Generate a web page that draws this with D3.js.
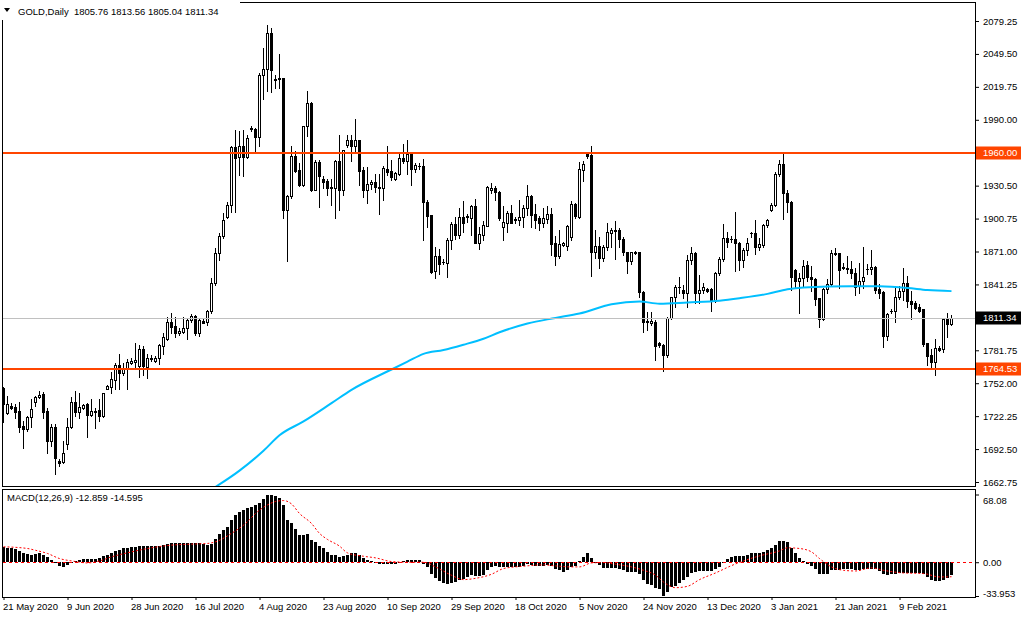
<!DOCTYPE html>
<html>
<head>
<meta charset="utf-8">
<script src="https://cdn.jsdelivr.net/npm/d3@7"></script>
<style>
  body { margin: 0; background: #fff; }
  svg { display: block; font-family: "Liberation Sans", Arial, sans-serif; }
</style>
</head>
<body>
<svg id="chart" width="1024" height="620"></svg>
<script>
// daily candles, bar 0 = 21 May 2020 ... bar 237 = last bar
const openP = [1747.5,1725.4,1731.5,1730.3,1726.6,1713.4,1710.4,1721.8,1735.1,1739.9,
  1742,1726.6,1699.8,1712.2,1682,1680.8,1697.4,1712.8,1735.4,1726,
  1729.7,1733,1723.3,1726.3,1727.6,1722.4,1747.2,1748.7,1755,1768.9,
  1761.6,1765.2,1770.1,1771.6,1767.7,1782.7,1767,1775.2,1772.5,1775.2,
  1785.7,1791.8,1807.7,1803.8,1797.8,1798.7,1801.7,1809.2,1812.9,1797.2,
  1808.3,1807.7,1816.8,1842.4,1869.5,1884.6,1902.1,1913.3,1965.1,1956.4,
  1966,1956.4,1982.6,1982,1974.5,2030.9,2036,2068.5,2027.2,2027.8,
  2027.8,1908.1,1920.8,1956.9,1944.9,1931.4,1984.1,2005.2,1926.8,1951.9,
  1936.5,1934.3,1929,1928.6,1952.4,1926.8,1967.5,1972,1966.6,1971.4,
  1944.3,1926.8,1931.6,1933.7,1929.2,1928.6,1945.8,1943.4,1936.4,1941.3,
  1955.7,1952.7,1958.8,1945.2,1948.2,1947.9,1915.6,1903.6,1853.2,1866.5,
  1861.4,1860.5,1881.6,1895.4,1885.5,1902.1,1902.1,1901.5,1911.7,1878.6,
  1886,1894.2,1926.2,1928.3,1925,1893,1897.2,1905.7,1900.2,1899.6,
  1902,1910.2,1921.4,1905,1901.1,1897.2,1900.5,1905,1878.5,1867.1,
  1877.3,1876.1,1884,1914.1,1902,1944.9,1958.7,1958.4,1870.1,1876.1,
  1865,1874.9,1887.6,1890,1890,1882.2,1870.1,1862,1871,1871,
  1834.8,1808,1806.2,1807.7,1788.1,1786.6,1777.5,1810.7,1829.7,1839,
  1836.3,1833.9,1863.5,1869.5,1833.3,1836.3,1836.9,1836.9,1826.7,1851.4,
  1864.4,1883,1882.1,1882.2,1878.5,1863.5,1872.5,1887.6,1887.6,1875.5,
  1877,1894.8,1908.1,1912.9,1940.9,1950.3,1923.8,1915.6,1854.4,1843.9,
  1846.9,1858.4,1848.2,1846.4,1828.6,1809.6,1837.3,1841.3,1869.9,1869.3,
  1857.2,1856,1855.4,1851.2,1839.7,1844.3,1855.4,1854.8,1857.2,1836.7,
  1834.3,1795.1,1817.4,1817.1,1830.1,1835.2,1842.2,1826.2,1824.7,1821,
  1818.6,1787.9,1777.9,1771,1783.9,1782.5,1810.2,1805.76];
const highP = [1749,1740.5,1734.5,1733,1735.4,1717.9,1722.4,1737.5,1740.5,1744.7,
  1744,1730,1714.9,1714.9,1683.8,1699.8,1721,1739.9,1744.7,1742.9,
  1733,1733.9,1737.5,1730,1737.5,1743.5,1750,1762.2,1770.7,1778.2,
  1770.7,1773.7,1775,1788,1786.3,1785.7,1778.2,1777.3,1776.7,1787,
  1797.8,1811.4,1815.3,1812,1801.7,1812,1809.8,1814.7,1813.8,1810.7,
  1809.8,1818.3,1847,1874,1887.6,1905.7,1915.4,1966,1981.1,1979.6,
  1981.1,1976.6,1984.1,1982.6,2032.4,2055,2075.2,2073,2030.9,2049.8,
  2027.8,1922.3,1966,1961.5,1951,1984.7,2015.8,2005.8,1954,1954,
  1938.9,1936.7,1936.7,1953.9,1976,1963,1976,1976,1991,1972,
  1947.3,1947.3,1935.8,1941.3,1940.7,1947.9,1966,1953.9,1942.8,1960.9,
  1968.4,1972,1959.4,1950.9,1950.9,1954.8,1917.1,1904.2,1875,1873.4,
  1864.4,1883.4,1897.6,1902.1,1910.5,1916.2,1905,1912.6,1918.7,1893,
  1899,1929.8,1932.8,1929.8,1925.3,1911.7,1907.8,1913.2,1902,1917.7,
  1913.2,1931.3,1922.3,1914.1,1903.3,1910.2,1911.7,1910.2,1884.6,1890,
  1880,1895.1,1916.2,1914.7,1951.5,1952.4,1960,1966,1890,1884,
  1877,1896.6,1892.1,1899,1892.1,1884,1871,1871,1871.6,1871,
  1835.7,1816.7,1816.7,1809.2,1789.6,1787.5,1812.2,1830.3,1840.8,1848.4,
  1840.8,1868,1875.5,1870.1,1849.9,1842.4,1837.8,1837.8,1852.9,1865.9,
  1896,1888.2,1884.6,1906.3,1880,1874,1883,1889,1899.6,1883,
  1896,1900.8,1914.7,1942.5,1953.9,1959.3,1926.8,1916.2,1855,1852,
  1863.7,1862.4,1857.8,1847.3,1829.2,1838.2,1845.8,1872.3,1874.4,1869.9,
  1860.8,1866.9,1862.4,1856.3,1860.8,1875.3,1859.3,1872.3,1857.8,1841.3,
  1835.2,1815.6,1819.2,1839.7,1839.7,1856.3,1848.8,1835.2,1826.2,1823.2,
  1819.2,1788.5,1782.5,1791.5,1785.5,1811.1,1815.6,1813.56];
const lowP = [1717.3,1724,1729,1721,1708,1693.8,1708.9,1712.8,1731.5,1739,
  1721,1689.3,1695.3,1670.3,1677.2,1680.2,1692.3,1711.9,1722.4,1721,
  1729,1703.4,1722.4,1711.9,1717.9,1721.5,1746.5,1742.9,1747.2,1746.5,
  1759.2,1747.2,1769,1764.5,1758,1759.8,1757.1,1772.2,1771.3,1769.2,
  1778.2,1791.2,1797.2,1794.2,1795.7,1797.2,1791.8,1807.7,1795.7,1794.8,
  1806.2,1804.7,1815.3,1840.9,1863.5,1883.1,1901.2,1906.3,1906.3,1940.4,
  1938.9,1955.5,1979.6,1960,1966,2008.8,2015.8,2014.9,2018.8,2018.8,
  1901.2,1862,1919.3,1943,1930.4,1930.4,1975.1,1926,1926.2,1911.1,
  1928.5,1921.7,1912.6,1901.5,1908.7,1921.7,1965.4,1952.7,1961.8,1930.7,
  1920.2,1914.7,1927.7,1924.7,1904.5,1917.8,1939.8,1935.8,1935.2,1939.8,
  1950.9,1941.3,1930.7,1942.8,1945.8,1881,1893,1851.7,1847.2,1850.8,
  1859.3,1847.8,1873.4,1882.5,1883.4,1888.5,1897.6,1885.5,1878.6,1873.4,
  1881.3,1893.6,1923.8,1917.1,1899.6,1881.5,1888.5,1896.6,1897.2,1895.1,
  1893,1904.2,1893,1892.1,1890,1893,1896.6,1868,1858.9,1864.9,
  1876,1872.5,1881.5,1901.1,1901.1,1934.3,1955.4,1849,1865,1855.9,
  1862,1872.5,1875.5,1864,1875.5,1868,1852,1859.8,1868.9,1830.3,
  1798.6,1800.2,1804.7,1773,1785.1,1763.4,1776,1809.8,1821.2,1833.3,
  1828.8,1821.2,1859.8,1824.3,1824.3,1833.3,1834.8,1817.6,1825.8,1849.9,
  1862,1875.5,1880,1853.8,1854.4,1856.8,1868,1884,1868.9,1872.5,
  1874.9,1893,1907.2,1911.7,1939.4,1900.2,1906.3,1836.3,1839.3,1815.8,
  1838.9,1844.3,1835.2,1822.3,1803,1809,1833.1,1839.7,1867.5,1838.2,
  1854.8,1851.2,1847.3,1831.3,1833.1,1838.2,1850.3,1850.3,1833.7,1829.2,
  1784.9,1790.9,1815.6,1807.2,1827.7,1827.1,1821,1810.2,1818.6,1816.2,
  1785.5,1768.9,1766.8,1759.8,1780.9,1780,1793.9,1805.04];
const closeP = [1733,1733.6,1730,1726,1712.8,1711,1721.8,1728.5,1739.9,1741.7,
  1726,1699.8,1712.2,1684.7,1680,1689.3,1712.8,1735.4,1726,1730.3,
  1732.4,1723,1726.6,1726.6,1722.4,1742.9,1749.3,1755.6,1768.9,1761.6,
  1765.5,1771.3,1772.2,1773.1,1782.7,1767.7,1775.2,1774,1775.2,1786.3,
  1794.2,1807.7,1803.2,1797.2,1799.6,1801.7,1809.2,1812.9,1797.2,1809.2,
  1806.8,1816.8,1842.4,1869.5,1884.6,1899.7,1913.3,1965.1,1955.5,1966,
  1956.4,1973.6,1981.7,1974.5,2030.9,2036,2068.5,2035.4,2026.3,2026.9,
  1908.1,1920.8,1957.6,1943.4,1931.4,1984.1,2005.2,1926.8,1951.6,1938.9,
  1934,1928.6,1928.6,1952.4,1926.8,1963,1972,1966.6,1971.4,1943.7,
  1926.8,1931.6,1933.7,1929.2,1928.6,1946.7,1942.8,1938.3,1941.9,1955.7,
  1952.4,1958.8,1945.2,1949.4,1947.9,1915.6,1902.7,1852.3,1866.5,1859.3,
  1861.6,1881.6,1895.4,1885.5,1902.1,1896.7,1903,1911.7,1878.6,1886.4,
  1895,1929.2,1928.3,1924.4,1901.1,1897.8,1905.7,1897.2,1899.3,1902,
  1910.2,1921.4,1904.2,1899.6,1897.2,1901.1,1905,1877.9,1867.1,1877.9,
  1878.5,1894.2,1914.1,1903.3,1945.5,1950.3,1956.9,1870.1,1876.1,1865,
  1874.9,1888.2,1890,1889.8,1882.2,1870.1,1862,1870.1,1869.5,1834.8,
  1807.7,1807.3,1808.3,1785.7,1786.6,1777.5,1810.7,1829.7,1838.7,1838.7,
  1833.9,1863.5,1869.5,1833.3,1836.3,1839.3,1835.7,1826.7,1851.4,1864.4,
  1883,1880,1882.2,1878.5,1863.5,1872.5,1878.5,1887.7,1875.5,1877.9,
  1894.8,1899.6,1912.9,1940.9,1950.3,1923.8,1915.3,1848.4,1843.9,1846.9,
  1858,1848.2,1845.8,1827.7,1809.6,1837.3,1841.3,1869.9,1868.7,1854.2,
  1856,1855.4,1851.2,1839.1,1844.3,1848.2,1855.6,1857.2,1836.1,1833.1,
  1795.1,1814.1,1817.5,1830.1,1835.2,1842.2,1826.2,1823.2,1819.8,1817,
  1787,1777,1771,1783.9,1781.8,1810.2,1805.1,1811.34];

// 200 moving average, read at these bars
const maIdx = [52,59,65,69,75,82,87,97,101,105,110,115,120,124,131,138,144,152,159,164,171,179,184,191,196,200,212,219,226,231,237];
const maVal = [1656,1673,1691,1705,1717.5,1734,1746,1764.4,1771.5,1778.5,1782,1786.8,1792.2,1798,1806,1811,1815,1823.3,1825.8,1823.8,1825,1826.6,1828.8,1832.7,1836.9,1838.5,1839.7,1839.5,1838,1836.2,1835.2];

// MACD(12,26,9) main values, one per bar
const macdVal = [15.5,14.5,13.8,12.8,11,8.8,8,7.7,8.4,9,
  7.7,5,2.7,0.7,-3.4,-4.4,-3,-0.7,1.3,2.4,
  3,3.7,3.7,3.7,4.4,6,7.7,9.4,11.4,12.5,
  13.8,14.5,15.5,15.8,16.5,16.5,16.2,16.2,16.2,16.5,
  17.2,18.2,19.2,19.2,19.5,19.5,19.5,19.5,19.5,18.9,
  18.5,17.8,18.2,23.2,28,32.3,35.7,42.8,47.5,50.2,
  52.2,54.2,55.9,57.6,60,63.3,67.9,68.08,67,64.6,
  57.6,42.4,39,33,27.3,27.3,28,22.2,20.5,16.5,
  13.8,10.7,7.4,7.4,5.7,6.7,7.7,9.1,9.1,7.4,
  4.4,2,1.3,0.3,-2,-1.7,-1.3,-1.7,-1.3,0,
  1.7,2.4,2.4,2.4,2,-2,-4.7,-11.4,-15.5,-18.9,
  -21.2,-21.5,-20.9,-19.5,-17.5,-16.5,-15.2,-13.1,-13.5,-13.5,
  -12.5,-8.1,-4.7,-3.4,-4.7,-4.7,-4.7,-4.7,-4.7,-5,
  -4,-2,-2.7,-3.4,-3.4,-3.4,-3,-4,-7,-8.1,
  -9.4,-8.1,-5,-4,1.3,5.4,8.8,4.4,-0.7,-3,
  -5.4,-5.4,-5.4,-5.4,-6.7,-7.7,-9.4,-9.4,-9.4,-12.1,
  -17.5,-21.5,-22.5,-26,-27.3,-33.95,-30.3,-24.9,-24.2,-20.9,
  -18.2,-14.8,-10.8,-10.1,-8.8,-8.8,-8.4,-8.4,-6.7,-4.7,
  0,3.7,5.7,6.4,6.4,6.4,7.7,9.4,9.4,9.4,
  10.4,12.1,13.8,17.2,21.5,21.5,20.5,13.8,8.8,4.4,
  1.3,-1.3,-3.4,-6.4,-11.4,-12.1,-12.1,-7.4,-8.1,-7.4,
  -7,-7,-7,-8.1,-8.1,-6.7,-6.7,-6.7,-6.7,-8.8,
  -12.1,-13.1,-12.1,-12.1,-10.8,-10.8,-10.8,-10.8,-10.8,-10.8,
  -11.4,-14.8,-18.2,-19.2,-19.2,-17.5,-15.5,-12.86];

// signal line, read at these bars
const sigIdx = [0,6,8,11,14,17,18,21,24,27,32,37,42,47,51,53,57,61,63,66,68,70,72,74,77,79,81,84,86,90,93,97,101,105,108,112,115,118,122,125,130,135,138,142,144,147,150,153,157,160,163,165,168,171,174,178,182,185,189,194,196,199,202,204,207,210,213,217,220,225,230,234,237];
const sigVal = [15.5,13.8,12,8.8,3.7,1.3,0.7,-0.7,1.3,5.4,10.4,14.5,17.2,18.2,18.9,20.5,29,40.7,49,57.6,61,62,58.6,49,39,29,22.9,16.2,9.4,6,4.4,0.7,0,0,-4.7,-13.1,-17.5,-16.2,-12.1,-6.4,-4,-2.7,-3.7,-4.7,-4.7,-0.7,-0.3,-2,-4.7,-8.1,-13,-19.9,-25.6,-24.2,-17.5,-10.8,-3.4,1.3,6.4,11.4,14.5,13.8,10.4,3.7,-4.7,-8.1,-8.8,-5.7,-8.1,-10.8,-11.4,-14.8,-14.6];

const priceTicks = [2079.25,2049.5,2019.75,1990,1960.25,1930.5,1900.75,1871,1841.25,1811.5,1781.75,1752,1722.25,1692.5,1662.75];
const levels = [1960.00, 1764.53];
const bid = 1811.34;
const dateIdx = [0,16,32,48,64,80,96,112,128,144,160,176,192,208,224];
const dateLabels = ['21 May 2020','9 Jun 2020','28 Jun 2020','16 Jul 2020','4 Aug 2020','23 Aug 2020','10 Sep 2020','29 Sep 2020','18 Oct 2020','5 Nov 2020','24 Nov 2020','13 Dec 2020','3 Jan 2021','21 Jan 2021','9 Feb 2021'];
const macdTicks = [68.08, 0, -33.953];
const macdTickLabels = ['68.08', '0.00', '-33.953'];
const macdTitle = 'MACD(12,26,9) -12.859 -14.595';

const svg = d3.select('#chart');
const fontSize = 9.5;

const x = d3.scaleLinear().domain([0, openP.length - 1]).range([3.5, 951.5]);
const y = d3.scaleLinear().domain([1662.75, 2079.25]).range([482, 21]);
const ym = d3.scaleLinear().domain([-33.953, 68.08]).range([596, 494.5]);

const defs = svg.append('defs');
defs.append('clipPath').attr('id', 'clipMain')
  .append('rect').attr('x', 3).attr('y', 3).attr('width', 972).attr('height', 483);
defs.append('clipPath').attr('id', 'clipMacd')
  .append('rect').attr('x', 3).attr('y', 490).attr('width', 972).attr('height', 107);

const candles = openP.map((o, i) => ({ i, o, h: highP[i], l: lowP[i], c: closeP[i] }));

// ---- main panel
const main = svg.append('g').attr('clip-path', 'url(#clipMain)');

main.append('g')
  .selectAll('line')
  .data(candles)
  .enter()
  .append('line')
  .attr('x1', d => x(d.i))
  .attr('x2', d => x(d.i))
  .attr('y1', d => Math.round(y(d.h)))
  .attr('y2', d => Math.round(y(d.l)) + 1)
  .attr('stroke', '#000')
  .attr('shape-rendering', 'crispEdges');

main.append('g')
  .selectAll('path')
  .data(candles)
  .enter()
  .append('path')
  .attr('d', d => {
    const cx = x(d.i);
    const top = Math.round(y(Math.max(d.o, d.c)));
    const bot = Math.round(y(Math.min(d.o, d.c)));
    if (bot - top < 1) return `M${cx - 1.5},${top + 0.5}H${cx + 1.5}`;
    return `M${cx - 1},${top + 0.5}H${cx + 1}V${bot + 0.5}H${cx - 1}Z`;
  })
  .attr('fill', d => d.c >= d.o ? '#fff' : '#000')
  .attr('stroke', '#000')
  .attr('shape-rendering', 'crispEdges');

const maLine = d3.line()
  .x(d => x(d[0]))
  .y(d => y(d[1]))
  .curve(d3.curveMonotoneX);

main.append('path')
  .datum(maIdx.map((d, i) => [d, maVal[i]]))
  .attr('d', maLine)
  .attr('fill', 'none')
  .attr('stroke', '#00bfff')
  .attr('stroke-width', 2);

main.append('line')
  .attr('x1', 3).attr('x2', 975)
  .attr('y1', Math.round(y(bid)) + 0.5).attr('y2', Math.round(y(bid)) + 0.5)
  .attr('stroke', '#c0c0c0');

main.selectAll('line.level')
  .data(levels)
  .enter()
  .append('line')
  .attr('class', 'level')
  .attr('x1', 3).attr('x2', 975)
  .attr('y1', d => Math.round(y(d)))
  .attr('y2', d => Math.round(y(d)))
  .attr('stroke', '#ff4500')
  .attr('stroke-width', 2);

// ---- MACD panel
const sub = svg.append('g').attr('clip-path', 'url(#clipMacd)');

sub.append('g')
  .selectAll('rect')
  .data(macdVal)
  .enter()
  .append('rect')
  .attr('x', (d, i) => x(i) - 1.5)
  .attr('width', 3)
  .attr('y', d => Math.round(ym(Math.max(d, 0))))
  .attr('height', d => Math.max(1, Math.abs(Math.round(ym(d)) - Math.round(ym(0)))))
  .attr('fill', '#000')
  .attr('shape-rendering', 'crispEdges');

sub.append('line')
  .attr('x1', 3).attr('x2', 975)
  .attr('y1', Math.round(ym(0)) + 0.5).attr('y2', Math.round(ym(0)) + 0.5)
  .attr('stroke', '#ff0000')
  .attr('stroke-dasharray', '3,3');

sub.append('path')
  .datum(sigIdx.map((d, i) => [d, sigVal[i]]))
  .attr('d', d3.line().x(d => x(d[0])).y(d => ym(d[1])).curve(d3.curveMonotoneX))
  .attr('fill', 'none')
  .attr('stroke', '#ff0000')
  .attr('stroke-dasharray', '2,2');

// ---- frames
svg.append('rect')
  .attr('x', 2.5).attr('y', 2.5).attr('width', 973).attr('height', 484)
  .attr('fill', 'none').attr('stroke', '#000');
svg.append('rect')
  .attr('x', 2.5).attr('y', 489.5).attr('width', 973).attr('height', 108)
  .attr('fill', 'none').attr('stroke', '#000');

// ---- axes
const yAxis = svg.append('g')
  .attr('transform', 'translate(975,0)')
  .call(d3.axisRight(y).tickValues(priceTicks).tickSize(4).tickPadding(4).tickFormat(d3.format('.2f')));
yAxis.select('.domain').remove();
yAxis.attr('font-family', null).attr('font-size', fontSize);

const mAxis = svg.append('g')
  .attr('transform', 'translate(975,0)')
  .call(d3.axisRight(ym).tickValues(macdTicks).tickSize(4).tickPadding(4).tickFormat((d, i) => macdTickLabels[i]));
mAxis.select('.domain').remove();
mAxis.attr('font-family', null).attr('font-size', fontSize);
mAxis.selectAll('text').attr('dy', (d, i) => i === 0 ? '0.95em' : (i === 2 ? '0' : '0.32em'));

const xAxis = svg.append('g')
  .attr('transform', 'translate(0,597)')
  .call(d3.axisBottom(x).tickValues(dateIdx).tickSize(3).tickPadding(3).tickFormat((d, i) => dateLabels[i]));
xAxis.select('.domain').remove();
xAxis.attr('font-family', null).attr('font-size', fontSize);
xAxis.selectAll('text').attr('text-anchor', 'start').attr('x', -1);

// ---- price labels on the axis
const tags = levels.map(v => ({ v, fill: '#ff4500' })).concat([{ v: bid, fill: '#000' }]);
const tag = svg.append('g')
  .selectAll('g')
  .data(tags)
  .enter()
  .append('g')
  .attr('transform', d => `translate(976,${Math.round(y(d.v))})`);
tag.append('rect')
  .attr('x', 0).attr('y', -6.5).attr('width', 45).attr('height', 13)
  .attr('fill', d => d.fill);
tag.append('text')
  .attr('x', 7).attr('dy', '0.35em')
  .attr('font-size', fontSize)
  .attr('fill', '#fff')
  .text(d => d3.format('.2f')(d.v));

// ---- titles
svg.append('rect').attr('x', 0).attr('y', 0).attr('width', 240).attr('height', 20).attr('fill', '#fff');
svg.append('path').attr('d', 'M4,8H10L7,12Z').attr('fill', '#000');
svg.append('text')
  .attr('x', 18).attr('y', 15)
  .attr('font-size', fontSize)
  .style('white-space', 'pre')
  .text('GOLD,Daily  ' + [openP[237], highP[237], lowP[237], closeP[237]].map(d3.format('.2f')).join(' '));

svg.append('text')
  .attr('x', 7).attr('y', 501)
  .attr('font-size', fontSize)
  .text(macdTitle);
</script>
</body>
</html>
